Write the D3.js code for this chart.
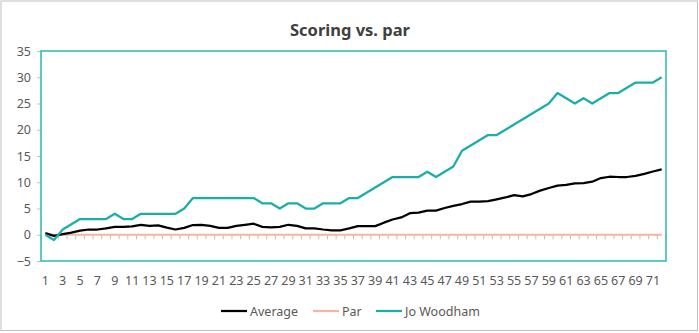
<!DOCTYPE html>
<html>
<head>
<meta charset="utf-8">
<script src="https://cdn.jsdelivr.net/npm/d3@7"></script>
<style>
  html, body { margin: 0; padding: 0; background: #fff; }
  svg { display: block; font-family: "Noto Sans", "Open Sans", sans-serif; }
</style>
</head>
<body>
<svg id="chart" width="699" height="333"></svg>
<script>
const categories = d3.range(1, 73);
const averageValues = [0.3, -0.2, 0.1, 0.4, 0.8, 1.0, 1.0, 1.2, 1.5, 1.5, 1.6, 1.9, 1.7, 1.8, 1.35, 1.0, 1.3, 1.85, 1.9, 1.7,
  1.3, 1.3, 1.7, 1.9, 2.1, 1.5, 1.4, 1.5, 1.9, 1.7, 1.2, 1.2, 1.0, 0.85, 0.85, 1.2, 1.65, 1.65, 1.65, 2.3,
  2.9, 3.3, 4.1, 4.2, 4.6, 4.6, 5.1, 5.5, 5.85, 6.3, 6.3, 6.4, 6.75, 7.1, 7.55, 7.3, 7.75, 8.4, 8.9, 9.35,
  9.5, 9.8, 9.85, 10.1, 10.8, 11.05, 11.0, 11.0, 11.2, 11.6, 12.05, 12.45];
const parValues = categories.map(() => 0);
const joWoodhamValues = [0, -1, 1, 2, 3, 3, 3, 3, 4, 3, 3, 4, 4, 4, 4, 4, 5, 7, 7, 7,
  7, 7, 7, 7, 7, 6, 6, 5, 6, 6, 5, 5, 6, 6, 6, 7, 7, 8, 9, 10,
  11, 11, 11, 11, 12, 11, 12, 13, 16, 17, 18, 19, 19, 20, 21, 22, 23, 24, 25, 27,
  26, 25, 26, 25, 26, 27, 27, 28, 29, 29, 29, 30];
const yTickValues = [-5, 0, 5, 10, 15, 20, 25, 30, 35];
const xTickLabels = categories.filter(c => c % 2 === 1);
const seriesNames = ["Average", "Par", "Jo Woodham"];
const seriesColors = ["#000000", "#F4B6A2", "#1AAEA9"];

const svg = d3.select("#chart");
const W = 699, H = 333;
const plot = { left: 41, right: 666, top: 51, bottom: 261 };

// outer border
svg.append("rect").attr("x", 1).attr("y", 1).attr("width", W - 2.5).attr("height", H - 3.5)
  .attr("fill", "#fff").attr("stroke", "#BFBFBF").attr("stroke-width", 1);

// title
svg.append("text").attr("x", 350).attr("y", 36).attr("text-anchor", "middle")
  .attr("font-size", 16.5).attr("font-weight", 700).attr("fill", "#404040")
  .text("Scoring vs. par");

const x = d3.scaleBand().domain(categories).range([plot.left, plot.right]).padding(0);
const y = d3.scaleLinear().domain([-5, 35]).range([plot.bottom, plot.top]);
const cx = c => x(c) + x.bandwidth() / 2;

// y axis
const yAxis = svg.append("g").attr("transform", `translate(${plot.left},0)`)
  .call(d3.axisLeft(y).tickValues(yTickValues).tickSize(4).tickPadding(6));
yAxis.select(".domain").remove();
yAxis.selectAll(".tick line").attr("stroke", "#BFBFBF");
yAxis.selectAll(".tick text").attr("font-size", 12.5).attr("fill", "#595959")
  .attr("font-family", "Noto Sans, Open Sans, sans-serif");

// x tick marks at category boundaries on zero line
const boundaries = categories.map(c => x(c)).concat([plot.right]);
svg.append("g").selectAll("line").data(boundaries).join("line")
  .attr("x1", d => d).attr("x2", d => d)
  .attr("y1", y(0)).attr("y2", y(0) + 4.5)
  .attr("stroke", "#BFBFBF").attr("stroke-width", 1);

// x labels at bottom
const xAxis = svg.append("g").attr("transform", `translate(0,${plot.bottom})`)
  .call(d3.axisBottom(x).tickValues(xTickLabels).tickSize(0).tickPadding(15));
xAxis.select(".domain").remove();
xAxis.selectAll(".tick text").attr("font-size", 12.5).attr("fill", "#595959")
  .attr("font-family", "Noto Sans, Open Sans, sans-serif");

// lines
const line = d3.line().x((d, i) => cx(categories[i])).y(d => y(d));
svg.append("path").datum(parValues).attr("d", line)
  .attr("fill", "none").attr("stroke", seriesColors[1]).attr("stroke-width", 2);
svg.append("path").datum(averageValues).attr("d", line)
  .attr("fill", "none").attr("stroke", seriesColors[0]).attr("stroke-width", 2.25)
  .attr("stroke-linejoin", "round");
svg.append("path").datum(joWoodhamValues).attr("d", line)
  .attr("fill", "none").attr("stroke", seriesColors[2]).attr("stroke-width", 2.25)
  .attr("stroke-linejoin", "round");

// plot frame
svg.append("rect").attr("x", plot.left).attr("y", plot.top)
  .attr("width", plot.right - plot.left).attr("height", plot.bottom - plot.top)
  .attr("fill", "none").attr("stroke", "#2DB7B2").attr("stroke-width", 1.5);

// legend
const legendItems = [
  { name: seriesNames[0], color: seriesColors[0], x0: 221 },
  { name: seriesNames[1], color: seriesColors[1], x0: 313 },
  { name: seriesNames[2], color: seriesColors[2], x0: 376 }
];
const lg = svg.append("g");
legendItems.forEach(it => {
  lg.append("line").attr("x1", it.x0).attr("x2", it.x0 + 26).attr("y1", 311).attr("y2", 311)
    .attr("stroke", it.color).attr("stroke-width", 2.25);
  lg.append("text").attr("x", it.x0 + 29).attr("y", 315.5).attr("font-size", 12.5)
    .attr("fill", "#595959").text(it.name);
});
</script>
</body>
</html>
